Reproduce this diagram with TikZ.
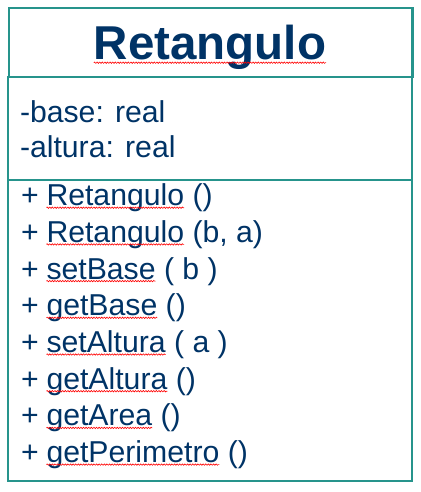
\documentclass[tikz,border=0pt]{standalone}
\usepackage{fontspec}
\setmainfont{Liberation Sans}
\usetikzlibrary{decorations.pathmorphing}
\definecolor{frame}{RGB}{38,148,140}
\definecolor{ink}{RGB}{0,51,102}

% one operation row: #1 name prefix, #2 baseline, #3 operation name, #4 parameters
\newcommand\opline[4]{%
  \node[txt] (#1p) at (21,#2) {+};
  \node[txt] (#1n) at (46.5,#2) {#3};
  \node[txt, xshift=8.4pt] (#1a) at (#1n.base east) {#4};
  \draw[spell] ([yshift=-2pt]#1n.base west) -- ([yshift=-2pt]#1n.base east);
}

\begin{document}
\begin{tikzpicture}[x=1pt, y=-1pt,
  box/.style={draw=frame, line width=2.2pt},
  txt/.style={inner sep=0pt, outer sep=0pt, anchor=base west, text=ink,
              font=\fontsize{30.2}{32}\selectfont},
  ttl/.style={inner sep=0pt, outer sep=0pt, anchor=base, text=ink,
              font=\fontsize{47.5}{50}\selectfont\bfseries},
  spell/.style={draw=red, line width=0.6pt, decorate,
                decoration={zigzag, segment length=2.6pt, amplitude=0.7pt}}]
  \useasboundingbox (0,0) rectangle (420,492);

  % class frame: name compartment, attributes, operations
  \draw[box] (9,8) rectangle (412.5,77);
  \draw[box] (8,77) rectangle (412,481);
  \draw[box] (8,180) -- (412,180);

  % class name
  \node[ttl] (title) at (210,60) {Retangulo};
  \draw[spell] ([yshift=-2.7pt]title.base west) -- ([yshift=-2.7pt]title.base east);

  % attributes
  \node[txt] (attrbase) at (20,122.5) {-base: real};
  \node[txt] (attralt) at (20,157.7) {-altura: real};

  % operations
  \opline{m1}{205.7}{Retangulo}{()}
  \opline{m2}{242.4}{Retangulo}{(b, a)}
  \opline{m3}{279.1}{setBase}{( b )}
  \opline{m4}{315.8}{getBase}{()}
  \opline{m5}{352.5}{setAltura}{( a )}
  \opline{m6}{389.2}{getAltura}{()}
  \opline{m7}{425.9}{getArea}{()}
  \opline{m8}{462.6}{getPerimetro}{()}
\end{tikzpicture}
\end{document}
